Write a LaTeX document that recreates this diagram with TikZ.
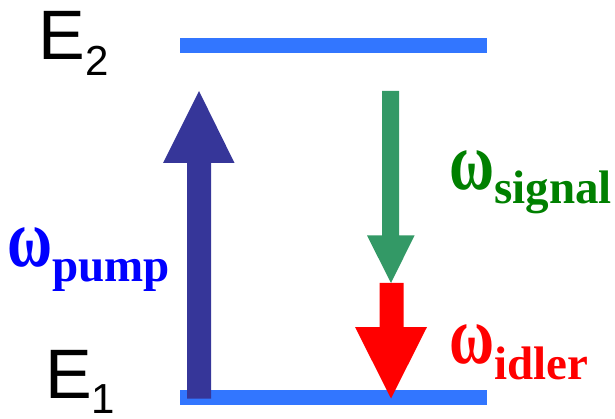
\documentclass[tikz,border=0pt]{standalone}
\usepackage{fontspec}
\usepackage{graphicx}
\setmainfont{Liberation Serif}
\newfontfamily\arialfont{Liberation Sans}
\usetikzlibrary{calc}
\definecolor{barblue}{RGB}{50,118,255}
\definecolor{pumpcol}{RGB}{54,54,153}
\definecolor{sigcol}{RGB}{51,153,102}
\definecolor{idlcol}{RGB}{255,0,0}
\definecolor{pumptext}{RGB}{0,0,255}
\definecolor{sigtext}{RGB}{0,128,0}
\definecolor{idltext}{RGB}{255,0,0}
\tikzset{
  levellabel/.style={anchor=base west, inner sep=0pt, font=\arialfont\fontsize{70}{70}\selectfont},
  omegalabel/.style={anchor=base west, inner sep=0pt, font=\bfseries\fontsize{70}{70}\selectfont},
}
\newcommand{\levsub}[2]{\raisebox{-#1pt}{\fontsize{42}{42}\selectfont #2}}
\newcommand{\omsub}[2]{\raisebox{-#1pt}{\fontsize{47}{47}\selectfont #2}}
\newcommand{\myomega}{\scalebox{0.88}[1.18]{ω}}
\begin{document}
\begin{tikzpicture}[x=1pt,y=-1pt]
\useasboundingbox (0,0) rectangle (615,419);
% energy levels
\fill[barblue] (180,38) rectangle (487,53.5);
\fill[barblue] (180,390) rectangle (487,405);
% coordinates
\coordinate (pumpTail) at (199,398.5);
\coordinate (pumpTip) at (199,91);
\coordinate (sigTail) at (390.5,91);
\coordinate (sigTip) at (391,283);
\coordinate (idlTail) at (391.5,283);
\coordinate (idlTip) at (391,398.5);
% pump arrow
\fill[pumpcol] ($(pumpTail)+(-12,0)$) -- ($(pumpTail)+(12,0)$) -- (211,163) -- (234.5,163)
  -- (pumpTip) -- (163,163) -- (187,163) -- cycle;
% idler arrow
\fill[idlcol] ($(idlTail)+(-12,0)$) -- ($(idlTail)+(12,0)$) -- (403.5,327) -- (427,327)
  -- (idlTip) -- (355,327) -- (379.5,327) -- cycle;
% signal arrow
\fill[sigcol] ($(sigTail)+(-8.5,0)$) -- ($(sigTail)+(8.5,0)$) -- (399,235.5) -- (414.5,235.5)
  -- (sigTip) -- (367,235.5) -- (382,235.5) -- cycle;
% labels
\node[levellabel] (E2) at (38.5,60) {E\levsub{16}{2}};
\node[levellabel] (E1) at (45,398) {E\levsub{15}{1}};
\node[omegalabel, text=pumptext] (wp) at (7,267) {\myomega\omsub{15}{pump}};
\node[omegalabel, text=sigtext] (ws) at (449,190) {\myomega\omsub{14}{signal}};
\node[omegalabel, text=idltext] (wi) at (449,363) {\myomega\omsub{16}{idler}};
\end{tikzpicture}
\end{document}
